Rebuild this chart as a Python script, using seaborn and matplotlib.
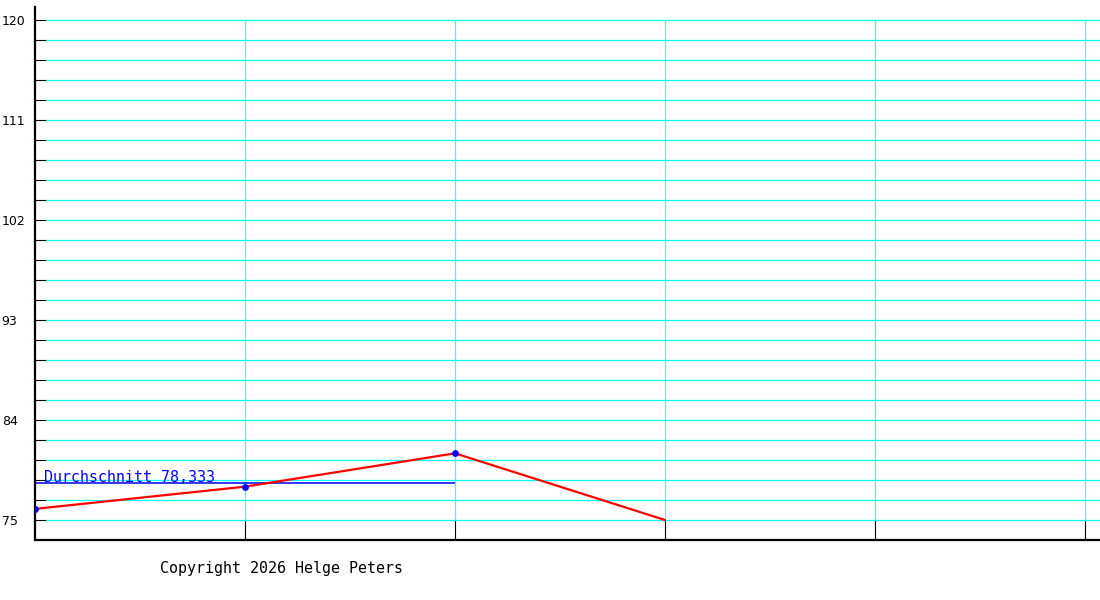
import numpy as np
import pandas as pd
import seaborn as sns
import matplotlib.pyplot as plt

# values
positions = [0, 1, 2, 3]
values = [76, 78, 81, 75]
marked = 3  # only the first three points carry a dot
y_labels = [75, 84, 93, 102, 111, 120]
y_step = 1.8
avg_label = "Durchschnitt 78,333"
copyright_text = "Copyright 2026 Helge Peters"

sns.set_style("white")
plt.rcParams['font.family'] = ['DejaVu Sans']

fig = plt.figure(figsize=(11, 6), dpi=100)
ax = fig.add_axes([35 / 1100, 60 / 600, 1065 / 1100, 533 / 600])

ymin = y_labels[0] - y_step
ymax = y_labels[-1] + 13 / (500 / 45)
xmax = 1065 / 210
ax.set_xlim(0, xmax)
ax.set_ylim(ymin, ymax)

# grid
minor = np.arange(y_labels[0], y_labels[-1] + 0.01, y_step)
ax.hlines(minor, 11 / 210, xmax, color='#00ffff', lw=0.9, zorder=1)
xgrid = [1, 2, 3, 4, 5]
ax.vlines(xgrid, y_labels[0], y_labels[-1], color='#33ffff', lw=0.9, zorder=1)

df = pd.DataFrame({'x': positions, 'y': values})
sns.lineplot(data=df, x='x', y='y', color='red', lw=1.6, ax=ax, zorder=3)
sns.scatterplot(data=df.iloc[:marked], x='x', y='y', color='blue', s=24,
                edgecolor='blue', linewidth=0, ax=ax, zorder=4)

avg = float(np.mean(values[:marked]))
ax.hlines(avg, 0, 2, color='#0000ee', lw=1.1, zorder=2)
ax.text(9 / 210, avg - 0.2, avg_label, color='blue', fontsize=10.8,
        family='DejaVu Sans Mono', va='bottom', ha='left')

ax.set_yticks(y_labels)
ax.set_yticks(minor, minor=True)
ax.set_yticklabels([str(v) for v in y_labels], ha='left', va='center_baseline')
ax.set_xticks(xgrid)
ax.set_xticklabels([])
ax.tick_params(axis='y', which='both', direction='in', length=7.9, width=0.8,
               color='black', pad=24, labelsize=9, labelcolor='black',
               left=True)
ax.tick_params(axis='x', direction='in', length=14.4, width=0.8,
               color='black', bottom=True)
ax.set_xlabel('')
ax.set_ylabel('')

for side in ['top', 'right']:
    ax.spines[side].set_visible(False)
for side in ['left', 'bottom']:
    ax.spines[side].set_color('black')
    ax.spines[side].set_linewidth(1.6)

fig.text(160 / 1100, 1 - 568 / 600, copyright_text, fontsize=10.8,
         family='DejaVu Sans Mono', color='black', va='center', ha='left')

fig.savefig('out.png', dpi=100, facecolor='white')
